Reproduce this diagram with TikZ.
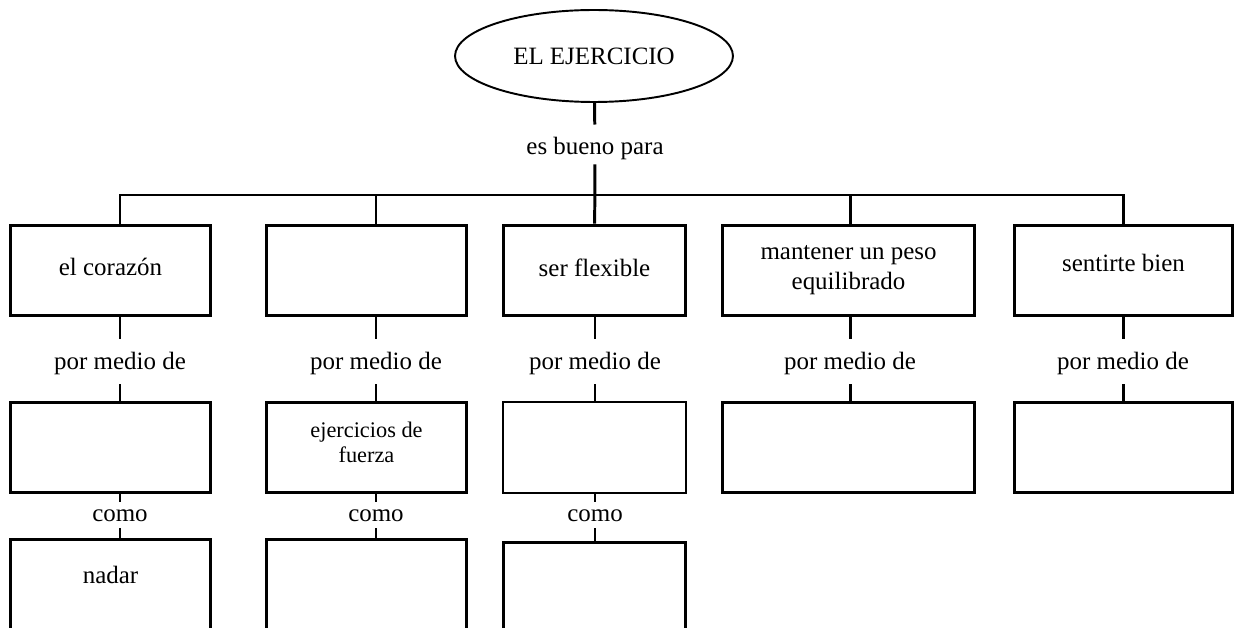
\documentclass[tikz,border=0pt]{standalone}
\usepackage{fontspec}
\setmainfont{Liberation Serif}
\usetikzlibrary{shapes.geometric}

\tikzset{
  tema/.style={ellipse, draw, line width=1.1pt, inner sep=0pt, minimum width=5.56cm, minimum height=1.84cm},
  caja/.style={draw, inner sep=0pt, minimum height=1.82cm, align=center},
  cajabaja/.style={caja, anchor=north, text height=0.88cm, text depth=1.12cm},
  enlace/.style={inner xsep=1pt, inner ysep=0pt, text height=#1},
  fino/.style={line width=0.8pt}
}

\begin{document}
\begin{tikzpicture}[x=0.02cm, y=-0.02cm, line width=1.7pt, font=\fontsize{14.2pt}{17pt}\selectfont]
\useasboundingbox (0,0) rectangle (1235,628);
\clip (0,0) rectangle (1235,628);

\node[tema] (raiz) at (594,56) {EL EJERCICIO};
\node[enlace=0.58cm, text depth=0.16cm] (esbueno) at (595,144.5) {es bueno para};
\coordinate (bar) at (595,195);

\node[caja, minimum width=4.02cm, text depth=0.16cm] (caja11) at (110.5,270.5) {el corazón};
\node[caja, minimum width=4.02cm] (caja12) at (366.5,270.5) {};
\node[caja, minimum width=3.66cm, text depth=0.12cm] (caja13) at (594.5,270.5) {ser flexible};
\node[caja, minimum width=5.06cm] (caja14) at (848.5,270.5) {mantener un peso\\equilibrado};
\node[caja, minimum width=4.38cm, text depth=0.32cm] (caja15) at (1123.5,270.5) {sentirte bien};

\node[enlace=0.6cm, text depth=0.26cm] (pm1) at (120,361.5) {por medio de};
\node[enlace=0.6cm, text depth=0.26cm] (pm2) at (376,361.5) {por medio de};
\node[enlace=0.6cm, text depth=0.26cm] (pm3) at (595,361.5) {por medio de};
\node[enlace=0.6cm, text depth=0.26cm] (pm4) at (850,361.5) {por medio de};
\node[enlace=0.6cm, text depth=0.26cm] (pm5) at (1123,361.5) {por medio de};

\node[caja, minimum width=4.02cm] (caja21) at (110.5,447.5) {};
\node[caja, minimum width=4.02cm, text depth=0.2cm, font=\fontsize{12.7pt}{14.2pt}\selectfont] (caja22) at (366.5,447.5) {ejercicios de\\fuerza};
\node[caja, fino, minimum width=3.66cm] (caja23) at (594.5,447.5) {};
\node[caja, minimum width=5.06cm] (caja24) at (848.5,447.5) {};
\node[caja, minimum width=4.38cm] (caja25) at (1123.5,447.5) {};

\node[enlace=0.36cm, text depth=0.11cm] (como1) at (120,515) {como};
\node[enlace=0.36cm, text depth=0.11cm] (como2) at (376,515) {como};
\node[enlace=0.36cm, text depth=0.11cm] (como3) at (595,515) {como};

\node[cajabaja, minimum width=4.02cm] (caja31) at (110.5,538) {nadar};
\node[cajabaja, minimum width=4.02cm] (caja32) at (366.5,538) {};
\node[cajabaja, minimum width=3.66cm] (caja33) at (594.5,541) {};

\draw (raiz) -- (esbueno);
\draw (esbueno) -- (caja13);
\draw (pm1 |- caja11.north) |- (bar) -| (pm5 |- caja15.north);
\draw (bar -| pm2) -- (pm2 |- caja12.north);
\draw (bar -| pm4) -- (pm4 |- caja14.north);

\draw (pm1) -- (pm1 |- caja11.south);
\draw (pm1) -- (pm1 |- caja21.north);
\draw (pm2) -- (pm2 |- caja12.south);
\draw (pm2) -- (pm2 |- caja22.north);
\draw (pm3) -- (pm3 |- caja13.south);
\draw[fino] (pm3) -- (pm3 |- caja23.north);
\draw (pm4) -- (pm4 |- caja14.south);
\draw (pm4) -- (pm4 |- caja24.north);
\draw (pm5) -- (pm5 |- caja15.south);
\draw (pm5) -- (pm5 |- caja25.north);

\draw (como1) -- (como1 |- caja21.south);
\draw (como1) -- (como1 |- caja31.north);
\draw (como2) -- (como2 |- caja22.south);
\draw (como2) -- (como2 |- caja32.north);
\draw[fino] (como3) -- (como3 |- caja23.south);
\draw (como3) -- (como3 |- caja33.north);

\end{tikzpicture}
\end{document}
